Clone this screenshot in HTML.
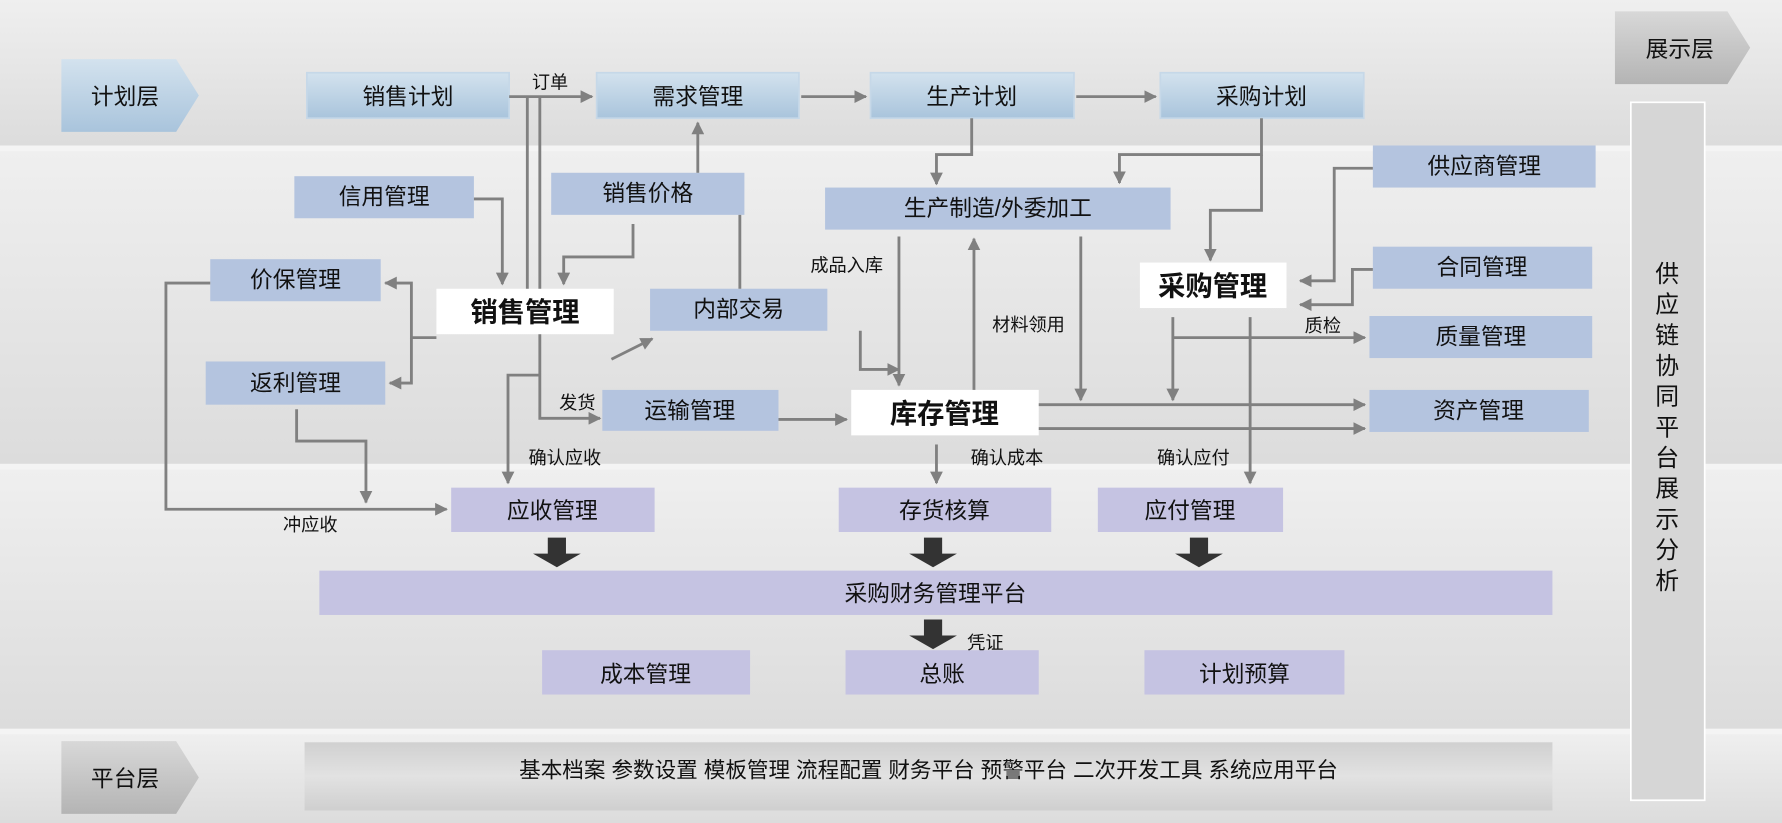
<!DOCTYPE html>
<html><head><meta charset="utf-8"><style>html,body{margin:0;padding:0;background:#e8e8e8}svg{display:block}text{font-family:"Liberation Sans","Noto Sans CJK SC",sans-serif;fill:#111}</style></head><body>
<svg width="1782" height="823" viewBox="0 0 1568 724" preserveAspectRatio="none" xmlns="http://www.w3.org/2000/svg">
<defs>
<linearGradient id="bg" x1="0" y1="0" x2="0" y2="1"><stop offset="0" stop-color="#efefef"/><stop offset="1" stop-color="#dcdcdc"/></linearGradient>
<linearGradient id="lb" x1="0" y1="0" x2="0" y2="1"><stop offset="0" stop-color="#d3e2ee"/><stop offset="1" stop-color="#a9c4dc"/></linearGradient>
<linearGradient id="gr" x1="0" y1="0" x2="0" y2="1"><stop offset="0" stop-color="#d8d8d8"/><stop offset="1" stop-color="#b4b4b4"/></linearGradient>
<linearGradient id="pb" x1="0" y1="0" x2="0" y2="1"><stop offset="0" stop-color="#d0d0d0"/><stop offset="0.5" stop-color="#e2e2e2"/><stop offset="1" stop-color="#cfcfcf"/></linearGradient>
<marker id="a" viewBox="0 0 10 10" refX="9" refY="5" markerWidth="4.5" markerHeight="4.5" orient="auto"><path d="M0,0L10,5L0,10z" fill="#808080"/></marker>
</defs>
<rect width="1568" height="724" fill="#f4f4f4"/>
<rect x="0" y="0" width="1568" height="128" fill="url(#bg)"/>
<rect x="0" y="133" width="1568" height="275" fill="url(#bg)"/>
<rect x="0" y="413" width="1568" height="228" fill="url(#bg)"/>
<rect x="0" y="646" width="1568" height="78" fill="url(#bg)"/>
<!-- layer pentagons -->
<path d="M54,52H155L175,84L155,116H54z" fill="url(#lb)"/>
<text x="110" y="92" font-size="20" text-anchor="middle">计划层</text>
<path d="M54,652H155L175,684L155,716H54z" fill="url(#gr)"/>
<text x="110" y="692" font-size="20" text-anchor="middle">平台层</text>
<path d="M1421,10H1520L1540,42L1520,74H1421z" fill="url(#gr)"/>
<text x="1478" y="50" font-size="20" text-anchor="middle">展示层</text>
<rect x="1435" y="90" width="65" height="614" fill="#d6d6d6" stroke="#fff" stroke-width="1.5"/>
<g font-size="21" text-anchor="middle">
<text x="1467" y="248">供</text><text x="1467" y="275">应</text><text x="1467" y="302">链</text><text x="1467" y="329">协</text><text x="1467" y="356">同</text><text x="1467" y="383">平</text><text x="1467" y="410">台</text><text x="1467" y="437">展</text><text x="1467" y="464">示</text><text x="1467" y="491">分</text><text x="1467" y="518">析</text>
</g>
<!-- plan boxes -->
<g fill="url(#lb)" stroke="#c6d8e8" stroke-width="1.5">
<rect x="270" y="64" width="178" height="40"/><rect x="525" y="64" width="178" height="40"/><rect x="766" y="64" width="179" height="40"/><rect x="1021" y="64" width="179" height="40"/>
</g>
<!-- blue boxes -->
<g fill="#b4c4df">
<rect x="259" y="155" width="158" height="37"/><rect x="485" y="152" width="170" height="37"/><rect x="726" y="165" width="304" height="37"/>
<rect x="1208" y="128" width="196" height="37"/><rect x="185" y="228" width="150" height="37"/><rect x="572" y="254" width="156" height="37"/>
<rect x="1208" y="217" width="193" height="37"/><rect x="1205" y="278" width="196" height="37"/><rect x="181" y="318" width="158" height="38"/>
<rect x="530" y="343" width="155" height="36"/><rect x="1205" y="343" width="193" height="37"/>
</g>
<g fill="#fff">
<rect x="384" y="254" width="156" height="40"/><rect x="1003" y="231" width="129" height="40"/><rect x="749" y="343" width="165" height="40"/>
</g>
<g fill="#c5c3e2">
<rect x="397" y="429" width="179" height="39"/><rect x="738" y="429" width="187" height="39"/><rect x="966" y="429" width="163" height="39"/>
<rect x="281" y="502" width="1085" height="39"/>
<rect x="477" y="572" width="183" height="39"/><rect x="744" y="572" width="170" height="39"/><rect x="1007" y="572" width="176" height="39"/>
</g>
<rect x="268" y="653" width="1098" height="60" fill="url(#pb)"/>
<text x="817" y="684" font-size="19" text-anchor="middle">基本档案 参数设置 模板管理 流程配置 财务平台  预警平台 二次开发工具   系统应用平台</text>
<!-- box labels -->
<g font-size="20" text-anchor="middle">
<text x="359" y="92">销售计划</text><text x="614" y="92">需求管理</text><text x="855" y="92">生产计划</text><text x="1110" y="92">采购计划</text>
<text x="338" y="180">信用管理</text><text x="570" y="177">销售价格</text><text x="878" y="190">生产制造/外委加工</text>
<text x="1306" y="153">供应商管理</text><text x="260" y="253">价保管理</text><text x="650" y="279">内部交易</text>
<text x="1304" y="242">合同管理</text><text x="1303" y="303">质量管理</text><text x="260" y="344">返利管理</text>
<text x="607" y="368">运输管理</text><text x="1301" y="368">资产管理</text>
<text x="486" y="456">应收管理</text><text x="831" y="456">存货核算</text><text x="1047" y="456">应付管理</text>
<text x="823" y="529">采购财务管理平台</text>
<text x="568" y="600">成本管理</text><text x="829" y="600">总账</text><text x="1095" y="600">计划预算</text>
</g>
<g font-size="24" font-weight="bold" text-anchor="middle">
<text x="462" y="283">销售管理</text><text x="1067" y="260">采购管理</text><text x="831" y="372">库存管理</text>
</g>
<!-- labels -->
<g font-size="16" text-anchor="middle">
<text x="484" y="78">订单</text><text x="508" y="360">发货</text><text x="273" y="467">冲应收</text><text x="497" y="408">确认应收</text>
<text x="745" y="239">成品入库</text><text x="905" y="291">材料领用</text><text x="1164" y="292">质检</text>
<text x="1050" y="408">确认应付</text><text x="886" y="408">确认成本</text><text x="867" y="571">凭证</text>
</g>
<!-- connectors -->
<g fill="none" stroke="#808080" stroke-width="2.5">
<path d="M448,85H521" marker-end="url(#a)"/>
<path d="M705,85H762" marker-end="url(#a)"/>
<path d="M947,85H1017" marker-end="url(#a)"/>
<path d="M464,85V254M475,85V254"/>
<path d="M475,294V368H528" marker-end="url(#a)"/>
<path d="M417,175H442V250" marker-end="url(#a)"/>
<path d="M614,152V108" marker-end="url(#a)"/>
<path d="M557,197V226H496V250" marker-end="url(#a)"/>
<path d="M651,189V254"/>
<path d="M384,297H362V249H339" marker-end="url(#a)"/>
<path d="M362,297V337H343" marker-end="url(#a)"/>
<path d="M185,249H146V448H393" marker-end="url(#a)"/>
<path d="M261,360V388H322V442" marker-end="url(#a)"/>
<path d="M475,330H447V425" marker-end="url(#a)"/>
<path d="M538,316L574,298" marker-end="url(#a)"/>
<path d="M757,291V325H791" marker-end="url(#a)"/>
<path d="M685,369H745" marker-end="url(#a)"/>
<path d="M855,104V136H824V162" marker-end="url(#a)"/>
<path d="M1110,104V136H985V161" marker-end="url(#a)"/>
<path d="M1110,136V185H1065V229" marker-end="url(#a)"/>
<path d="M791,208V339" marker-end="url(#a)"/>
<path d="M857,343V210" marker-end="url(#a)"/>
<path d="M951,208V352" marker-end="url(#a)"/>
<path d="M914,356H1201" marker-end="url(#a)"/>
<path d="M914,377H1201" marker-end="url(#a)"/>
<path d="M1032,279V352" marker-end="url(#a)"/>
<path d="M1032,297H1201" marker-end="url(#a)"/>
<path d="M1100,279V425" marker-end="url(#a)"/>
<path d="M1208,148H1174V247H1144" marker-end="url(#a)"/>
<path d="M1208,237H1190V268H1144" marker-end="url(#a)"/>
<path d="M824,391V425" marker-end="url(#a)"/>
</g>
<!-- big down arrows -->
<g fill="#333">
<path d="M482,473H498V487H511L490,499L469,487H482z"/>
<path d="M813,473H829V487H842L821,499L800,487H813z"/>
<path d="M1047,473H1063V487H1076L1055,499L1034,487H1047z"/>
<path d="M813,545H829V559H842L821,571L800,559H813z"/>
</g>
</svg>
</body></html>
